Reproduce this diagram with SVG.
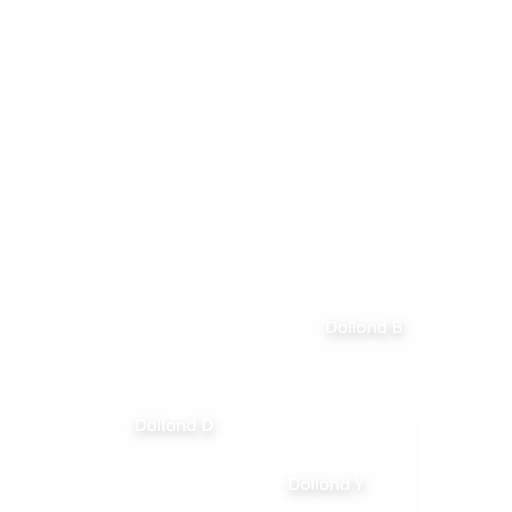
<svg xmlns="http://www.w3.org/2000/svg" width="512" height="512" viewBox="0 0 512 512">
<defs>
<filter id="sh" x="-40%" y="-100%" width="180%" height="300%">
<feGaussianBlur in="SourceAlpha" stdDeviation="5"/>
<feOffset dx="1" dy="4" result="b"/>
<feFlood flood-color="#000" flood-opacity="0.3"/>
<feComposite in2="b" operator="in"/>
<feMerge><feMergeNode/><feMergeNode in="SourceGraphic"/></feMerge>
</filter>
</defs>
<style>
.cell{fill:#fefefe;stroke:none}
.lbl{font-family:"Open Sans","Noto Sans",sans-serif;font-size:17px;fill:#ffffff;text-anchor:middle;filter:url(#sh)}
</style>
<rect width="512" height="512" fill="#ffffff"/>
<g id="connectors"></g>
<g id="strip-right"><rect class="cell" x="496" y="67" width="20" height="133"/></g>
<g id="strip-left"><rect class="cell" x="-4" y="233" width="34" height="135"/></g>
<g id="dollond-b"><rect class="cell" x="271" y="263" width="191" height="135"/><text class="lbl" x="364" y="333">Dollond B</text></g>
<g id="dollond-d"><rect class="cell" x="82" y="363" width="190" height="130"/><text class="lbl" x="174" y="431">Dollond D</text></g>
<g id="dollond-y"><rect class="cell" x="233" y="417" width="187" height="100"/><text class="lbl" x="326" y="490">Dollond Y</text></g>
</svg>
